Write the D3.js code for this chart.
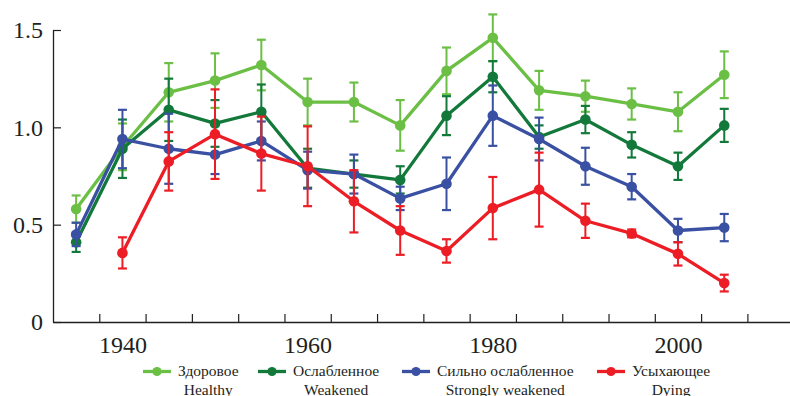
<!DOCTYPE html>
<html>
<head>
<meta charset="utf-8">
<script src="https://cdn.jsdelivr.net/npm/d3@7"></script>
<style>
  html, body { margin: 0; padding: 0; background: #fff; }
  svg { display: block; }
</style>
</head>
<body>
<svg id="chart" width="790" height="396"></svg>
<script>
// ---- Data ----
const years = [1935, 1940, 1945, 1950, 1955, 1960, 1965, 1970, 1975, 1980, 1985, 1990, 1995, 2000, 2005];

const healthy      = [0.58, 0.90, 1.18, 1.24, 1.32, 1.13, 1.13, 1.01, 1.29, 1.46, 1.19, 1.16, 1.12, 1.08, 1.27];
const healthyErr   = [0.07, 0.12, 0.15, 0.14, 0.13, 0.12, 0.10, 0.13, 0.12, 0.12, 0.10, 0.08, 0.08, 0.10, 0.12];

const weakened     = [0.41, 0.89, 1.09, 1.02, 1.08, 0.79, 0.76, 0.73, 1.06, 1.26, 0.95, 1.04, 0.91, 0.80, 1.01];
const weakenedErr  = [0.05, 0.15, 0.16, 0.12, 0.14, 0.10, 0.07, 0.07, 0.10, 0.08, 0.06, 0.07, 0.065, 0.07, 0.085];

const strongly     = [0.45, 0.94, 0.89, 0.86, 0.93, 0.78, 0.76, 0.635, 0.71, 1.06, 0.94, 0.80, 0.695, 0.47, 0.485];
const stronglyErr  = [0.06, 0.15, 0.18, 0.10, 0.10, 0.095, 0.10, 0.06, 0.135, 0.155, 0.11, 0.095, 0.065, 0.06, 0.07];

const dying        = [null, 0.355, 0.825, 0.965, 0.865, 0.80, 0.62, 0.47, 0.365, 0.585, 0.68, 0.52, 0.455, 0.35, 0.20];
const dyingErr     = [null, 0.08, 0.15, 0.23, 0.19, 0.205, 0.16, 0.125, 0.06, 0.16, 0.19, 0.088, 0.02, 0.06, 0.043];

const seriesNamesRu = ["Здоровое", "Ослабленное", "Сильно ослабленное", "Усыхающее"];
const seriesNamesEn = ["Healthy", "Weakened", "Strongly weakened", "Dying"];
const seriesColors  = ["#6bbf45", "#12793a", "#3a50a2", "#ec1d25"];

const xTickValues  = [1937.5, 1942.5, 1947.5, 1952.5, 1957.5, 1962.5, 1967.5, 1972.5, 1977.5, 1982.5, 1987.5, 1992.5, 1997.5, 2002.5, 2007.5];
const xLabelValues = [1940, 1960, 1980, 2000];
const yTickValues  = [0, 0.5, 1.0, 1.5];
const yTickLabels  = ["0", "0.5", "1.0", "1.5"];

// ---- Layout ----
const svg = d3.select("#chart");
const x = d3.scaleLinear().domain([1932.5, 2012.1]).range([53, 790]);
const y = d3.scaleLinear().domain([0, 1.5]).range([322, 30]);

const serif = "'Liberation Serif', 'Times New Roman', serif";
const textColor = "#231f20";

// Y axis
const yAxis = d3.axisLeft(y).tickValues(yTickValues)
  .tickFormat((d, i) => yTickLabels[i]).tickSize(-8).tickSizeOuter(0).tickPadding(10);
const gy = svg.append("g").attr("transform", "translate(53,0)").call(yAxis);
gy.select(".domain").attr("stroke", "#231f20").attr("stroke-width", 1.3);
gy.selectAll(".tick line").attr("stroke", "#231f20").attr("stroke-width", 1.2);
gy.selectAll(".tick text").attr("font-family", serif).attr("font-size", 24).attr("fill", textColor);

// X axis (ticks)
const xAxis = d3.axisBottom(x).tickValues(xTickValues).tickFormat("").tickSize(-8).tickSizeOuter(0);
const gx = svg.append("g").attr("transform", "translate(0,322)").call(xAxis);
gx.select(".domain").attr("stroke", "#231f20").attr("stroke-width", 1.3);
gx.selectAll(".tick line").attr("stroke", "#231f20").attr("stroke-width", 1.2);

// X labels
const xLab = d3.axisBottom(x).tickValues(xLabelValues).tickFormat(d3.format("d")).tickSize(0).tickPadding(14);
const gxl = svg.append("g").attr("transform", "translate(0,322)").call(xLab);
gxl.select(".domain").remove();
gxl.selectAll(".tick text").attr("font-family", serif).attr("font-size", 24).attr("fill", textColor);

// Series
const allSeries = [
  { v: healthy, e: healthyErr },
  { v: weakened, e: weakenedErr },
  { v: strongly, e: stronglyErr },
  { v: dying, e: dyingErr }
];

allSeries.forEach((s, si) => {
  const color = seriesColors[si];
  const pts = years.map((yr, i) => ({ yr, v: s.v[i], e: s.e[i] })).filter(d => d.v != null);
  const g = svg.append("g");

  // error bars
  const eb = g.selectAll(".eb").data(pts).enter().append("g");
  eb.append("line")
    .attr("x1", d => x(d.yr)).attr("x2", d => x(d.yr))
    .attr("y1", d => y(d.v + d.e)).attr("y2", d => y(d.v - d.e))
    .attr("stroke", color).attr("stroke-width", 2);
  [1, -1].forEach(sg => {
    eb.append("line")
      .attr("x1", d => x(d.yr) - 4.5).attr("x2", d => x(d.yr) + 4.5)
      .attr("y1", d => y(d.v + sg * d.e)).attr("y2", d => y(d.v + sg * d.e))
      .attr("stroke", color).attr("stroke-width", 2.2);
  });

  // line
  const line = d3.line().x(d => x(d.yr)).y(d => y(d.v));
  g.append("path").datum(pts).attr("d", line)
    .attr("fill", "none").attr("stroke", color).attr("stroke-width", 3.3)
    .attr("stroke-linejoin", "round");

  // markers
  g.selectAll("circle").data(pts).enter().append("circle")
    .attr("cx", d => x(d.yr)).attr("cy", d => y(d.v)).attr("r", 5.3)
    .attr("fill", color);
});

// Legend
const legendSym = [143, 258, 402, 597];
const legendSymW = 28;
const legend = svg.append("g");
seriesNamesRu.forEach((name, i) => {
  const x0 = legendSym[i];
  const gl = legend.append("g");
  gl.append("line").attr("x1", x0).attr("x2", x0 + legendSymW).attr("y1", 371.5).attr("y2", 371.5)
    .attr("stroke", seriesColors[i]).attr("stroke-width", 3.3);
  gl.append("circle").attr("cx", x0 + legendSymW / 2).attr("cy", 371.5).attr("r", 4.6).attr("fill", seriesColors[i]);
  const t = gl.append("text").attr("x", x0 + legendSymW + 7).attr("y", 376)
    .attr("font-family", serif).attr("font-size", 15.5).attr("fill", textColor).text(name);
  const w = t.node().getComputedTextLength();
  gl.append("text").attr("x", x0 + legendSymW + 7 + w / 2).attr("y", 394.5).attr("text-anchor", "middle")
    .attr("font-family", serif).attr("font-size", 15.5).attr("fill", textColor).text(seriesNamesEn[i]);
});
</script>
</body>
</html>
